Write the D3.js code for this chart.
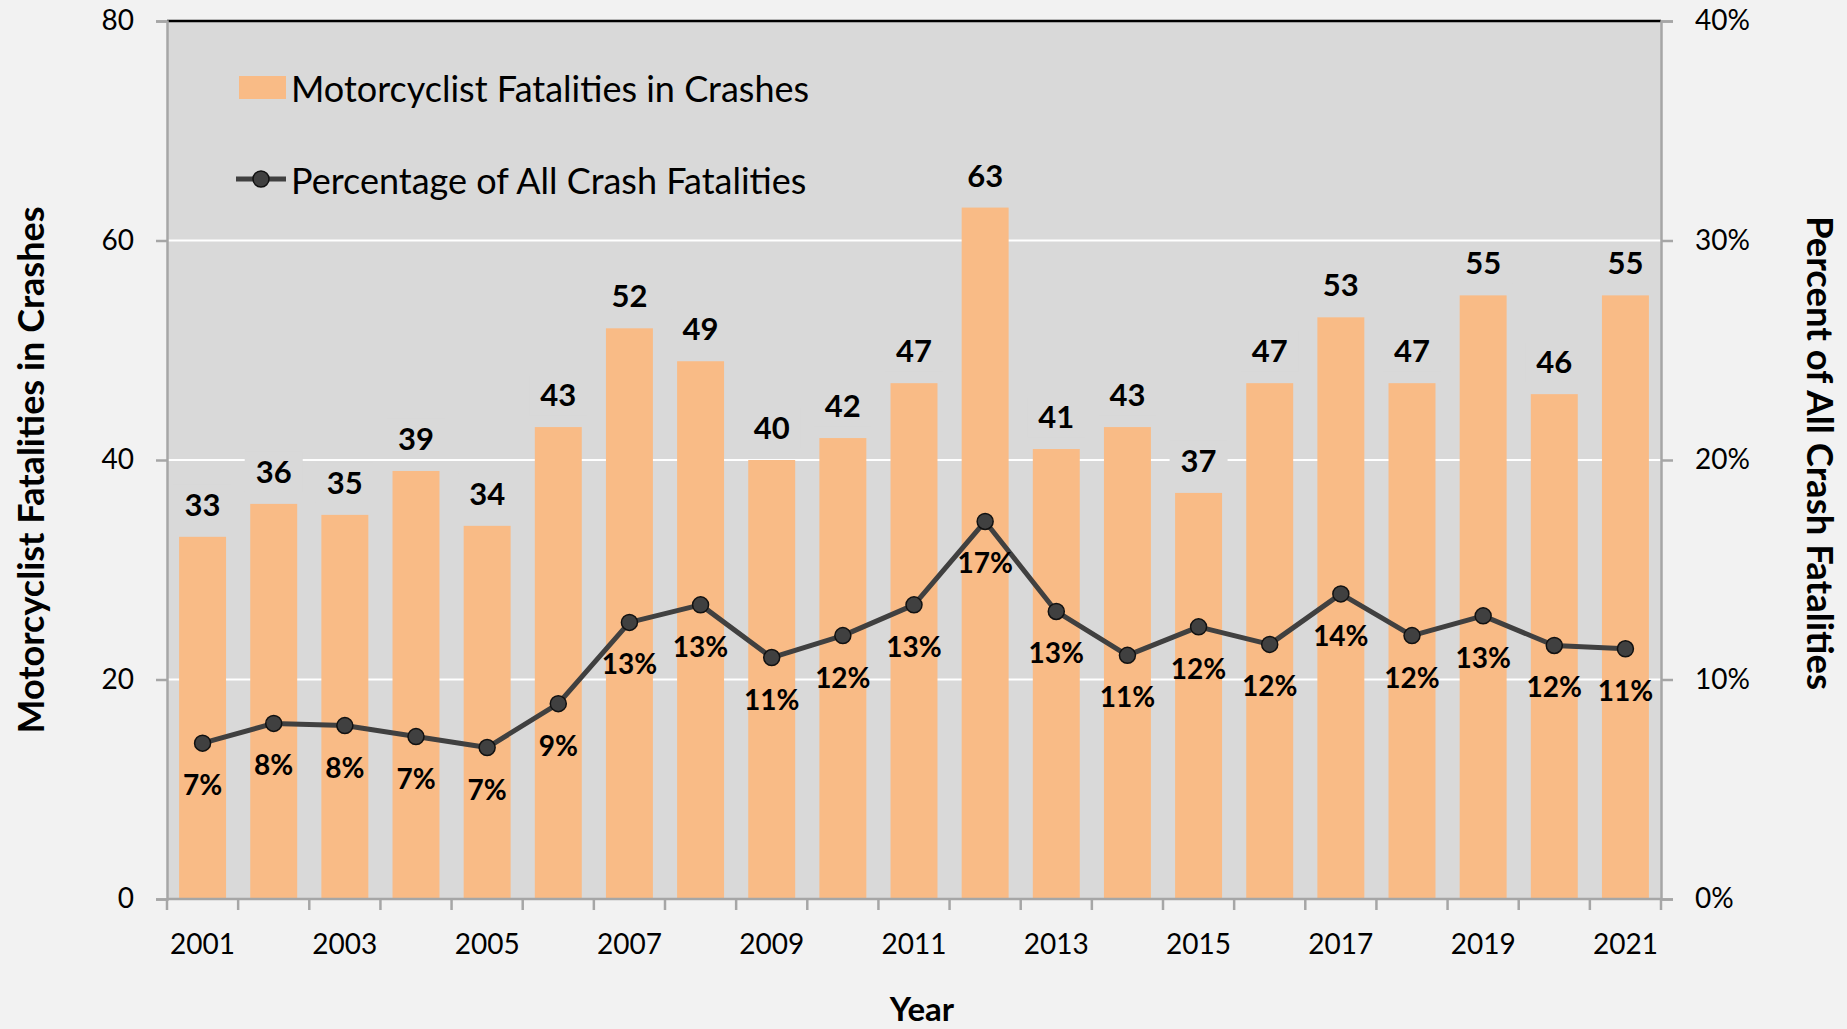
<!DOCTYPE html>
<html>
<head>
<meta charset="utf-8">
<script src="https://cdn.jsdelivr.net/npm/d3@7"></script>
<style>
  html, body { margin: 0; padding: 0; background: #f2f2f2; }
  svg { display: block; }
  text { font-family: Lato, "Open Sans", sans-serif; fill: #000; }
</style>
</head>
<body>
<svg id="chart" width="1847" height="1029"></svg>
<script>
const years = [2001,2002,2003,2004,2005,2006,2007,2008,2009,2010,2011,2012,2013,2014,2015,2016,2017,2018,2019,2020,2021];
const fatalities = [33,36,35,39,34,43,52,49,40,42,47,63,41,43,37,47,53,47,55,46,55];
const percentOfAll = [7.1,8.0,7.9,7.4,6.9,8.9,12.6,13.4,11.0,12.0,13.4,17.2,13.1,11.1,12.4,11.6,13.9,12.0,12.9,11.55,11.4];
const leftTicks = [0,20,40,60,80];
const rightTicks = [0,10,20,30,40];
const xTickLabels = [2001,2003,2005,2007,2009,2011,2013,2015,2017,2019,2021];
const seriesNames = ["Motorcyclist Fatalities in Crashes","Percentage of All Crash Fatalities"];
const axisTitles = {left:"Motorcyclist Fatalities in Crashes", right:"Percent of All Crash Fatalities", bottom:"Year"};

const svg = d3.select("#chart");
const W = 1847, H = 1029;
const m = {left:167, right:W-1661, top:21, bottom:H-899};
const pw = W - m.left - m.right, ph = H - m.top - m.bottom;

svg.append("rect").attr("width",W).attr("height",H).attr("fill","#f2f2f2");

const x = d3.scaleBand().domain(years).range([m.left, m.left+pw]).paddingInner(0.34).paddingOuter(0.17);
const yL = d3.scaleLinear().domain([0,80]).range([m.top+ph, m.top]);
const yR = d3.scaleLinear().domain([0,40]).range([m.top+ph, m.top]);

// plot area
svg.append("rect").attr("x",m.left).attr("y",m.top).attr("width",pw).attr("height",ph).attr("fill","#d9d9d9");

// gridlines
svg.append("g").selectAll("line").data(leftTicks.filter(d=>d>0 && d<80)).join("line")
  .attr("x1",m.left).attr("x2",m.left+pw)
  .attr("y1",d=>yL(d)).attr("y2",d=>yL(d))
  .attr("stroke","#ffffff").attr("stroke-width",2);

// bars
svg.append("g").selectAll("rect").data(years).join("rect")
  .attr("x",d=>x(d)).attr("width",x.bandwidth())
  .attr("y",(d,i)=>yL(fatalities[i])).attr("height",(d,i)=>yL(0)-yL(fatalities[i]))
  .attr("fill","#f9bb86");

// bar labels (with plot-coloured box that hides gridlines)
const bl = svg.append("g").selectAll("g").data(years).join("g");
bl.append("rect")
  .attr("x",d=>x(d)+x.bandwidth()/2-29).attr("width",58)
  .attr("y",(d,i)=>yL(fatalities[i])-52).attr("height",40)
  .attr("fill","#d9d9d9");
bl.append("text")
  .attr("x",d=>x(d)+x.bandwidth()/2)
  .attr("y",(d,i)=>yL(fatalities[i])-33)
  .attr("text-anchor","middle").attr("dominant-baseline","central")
  .attr("font-size",31).attr("font-weight",700)
  .text((d,i)=>String(fatalities[i]));

// top border
svg.append("line").attr("x1",m.left).attr("x2",m.left+pw).attr("y1",m.top).attr("y2",m.top)
  .attr("stroke","#000").attr("stroke-width",2.5);

// axes
const axisColor = "#a6a6a6";
const gL = svg.append("g").attr("transform",`translate(${m.left},0)`)
  .call(d3.axisLeft(yL).tickValues(leftTicks).tickSize(11).tickPadding(22).tickFormat(d3.format("d")));
const gR = svg.append("g").attr("transform",`translate(${m.left+pw},0)`)
  .call(d3.axisRight(yR).tickValues(rightTicks).tickSize(12).tickPadding(22).tickFormat(d=>d+"%"));
[gL,gR].forEach(g=>{
  g.select(".domain").attr("stroke",axisColor).attr("stroke-width",2.5);
  g.selectAll(".tick line").attr("stroke",axisColor).attr("stroke-width",2.5);
  g.selectAll(".tick text").attr("font-size",28).attr("font-family","Lato").attr("fill","#000");
});

// bottom axis: ticks at category boundaries
const bounds = d3.range(years.length+1).map(i=>m.left + i*pw/years.length);
const gB = svg.append("g");
gB.append("line").attr("x1",m.left).attr("x2",m.left+pw).attr("y1",yL(0)).attr("y2",yL(0))
  .attr("stroke",axisColor).attr("stroke-width",2.5);
gB.selectAll("line.t").data(bounds).join("line").attr("class","t")
  .attr("x1",d=>d).attr("x2",d=>d).attr("y1",yL(0)).attr("y2",yL(0)+11)
  .attr("stroke",axisColor).attr("stroke-width",2.5);
gB.selectAll("text").data(xTickLabels).join("text")
  .attr("x",d=>x(d)+x.bandwidth()/2).attr("y",943)
  .attr("text-anchor","middle").attr("dominant-baseline","central")
  .attr("font-size",28).text(d=>d);

// line series
const line = d3.line().x((d,i)=>x(years[i])+x.bandwidth()/2).y(d=>yR(d));
svg.append("path").datum(percentOfAll).attr("d",line)
  .attr("fill","none").attr("stroke","#404040").attr("stroke-width",5).attr("stroke-linejoin","round");
svg.append("g").selectAll("circle").data(percentOfAll).join("circle")
  .attr("cx",(d,i)=>x(years[i])+x.bandwidth()/2).attr("cy",d=>yR(d)).attr("r",8)
  .attr("fill","#404040").attr("stroke","#111").attr("stroke-width",1.5);
svg.append("g").selectAll("text").data(percentOfAll).join("text")
  .attr("x",(d,i)=>x(years[i])+x.bandwidth()/2).attr("y",d=>yR(d)+41)
  .attr("text-anchor","middle").attr("dominant-baseline","central")
  .attr("font-size",28).attr("font-weight",700)
  .text(d=>Math.round(d)+"%");

// legend
const lg = svg.append("g");
lg.append("rect").attr("x",239).attr("y",76).attr("width",47).attr("height",23).attr("fill","#f9bb86");
lg.append("text").attr("x",291).attr("y",88).attr("dominant-baseline","central").attr("font-size",36).text(seriesNames[0]);
lg.append("line").attr("x1",236).attr("x2",286).attr("y1",179).attr("y2",179).attr("stroke","#404040").attr("stroke-width",5);
lg.append("circle").attr("cx",261).attr("cy",179).attr("r",8).attr("fill","#404040").attr("stroke","#111").attr("stroke-width",1.5);
lg.append("text").attr("x",291).attr("y",180).attr("dominant-baseline","central").attr("font-size",36).text(seriesNames[1]);

// axis titles
svg.append("text").attr("transform","translate(30,470) rotate(-90)")
  .attr("text-anchor","middle").attr("dominant-baseline","central")
  .attr("font-size",36).attr("font-weight",700).text(axisTitles.left);
svg.append("text").attr("transform","translate(1821,453) rotate(90)")
  .attr("text-anchor","middle").attr("dominant-baseline","central")
  .attr("font-size",36.5).attr("font-weight",700).text(axisTitles.right);
svg.append("text").attr("x",922).attr("y",1008)
  .attr("text-anchor","middle").attr("dominant-baseline","central")
  .attr("font-size",33).attr("font-weight",700).text(axisTitles.bottom);
</script>
</body>
</html>
